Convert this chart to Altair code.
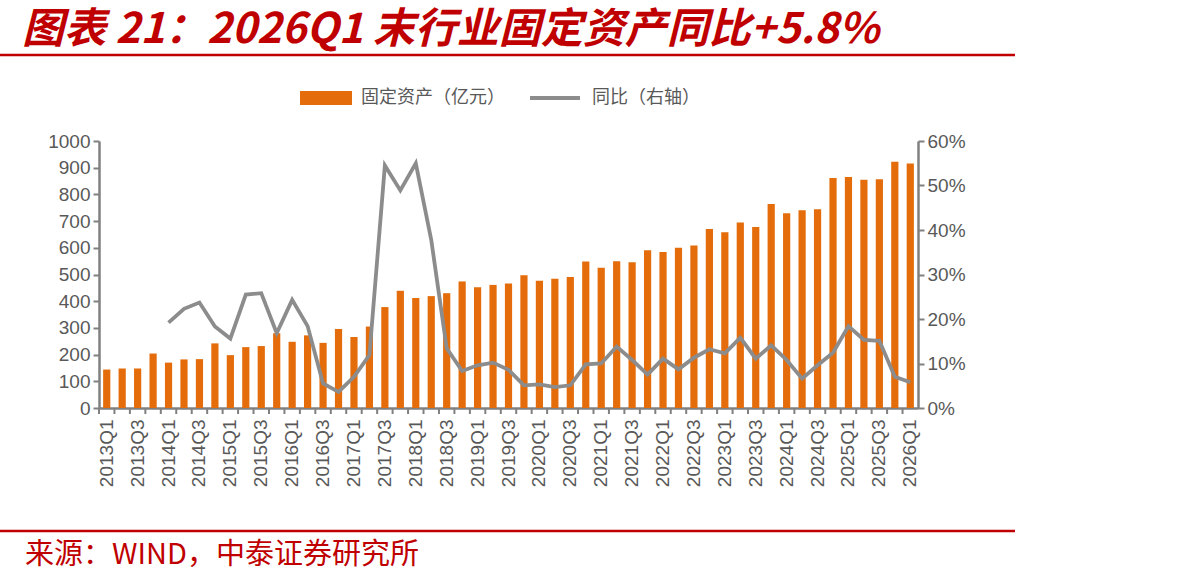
import altair as alt
import pandas as pd

# Quarter labels, 2013Q1 .. 2026Q1
quarters = [f"{y}Q{q}" for y in range(2013, 2027) for q in range(1, 5)][:53]
shown_labels = [q for q in quarters if q.endswith("Q1") or q.endswith("Q3")]

# Fixed assets (100 million yuan), one value per quarter
fixed_assets = [144, 148, 148, 204, 170, 182, 183, 242, 198, 228,
                232, 280, 248, 272, 244, 296, 266, 305, 378, 439,
                412, 419, 430, 474, 452, 461, 466, 497, 477, 484,
                491, 549, 525, 550, 546, 591, 584, 600, 609, 670,
                658, 695, 678, 764, 729, 741, 744, 861, 865, 855,
                857, 922, 916]

# Year-on-year growth (%), available from 2014Q1
yoy_quarters = quarters[4:]
yoy_pct = [19.2, 22.3, 23.7, 18.3, 15.6, 25.5, 25.8, 16.8, 24.3, 18.4,
           5.5, 3.6, 7.0, 11.9, 54.5, 48.9, 55.0, 37.8, 13.4, 8.3,
           9.6, 10.2, 8.6, 5.1, 5.3, 4.7, 5.1, 9.8, 10.0, 13.8,
           10.8, 7.5, 11.1, 8.7, 11.3, 13.2, 12.3, 15.8, 11.1, 14.1,
           10.8, 6.6, 9.6, 12.4, 18.4, 15.3, 15.1, 7.0, 5.8]

left_ticks = list(range(0, 1001, 100))
right_ticks = [0, 10, 20, 30, 40, 50, 60]

bar_name = "固定资产（亿元）"
line_name = "同比（右轴）"
title_text = "图表 21：2026Q1 末行业固定资产同比+5.8%"
source_text = "来源：WIND，中泰证券研究所"

ORANGE = "#E46C0A"
GREY = "#8C8C8C"
RED = "#C00000"
AXIS = "#808080"
LABEL = "#595959"
NUM_FONT = "Liberation Sans"
CJK_FONT = "Noto Sans CJK SC"

W, H = 819, 267
OX, OY = 99, 141
STEP = W / len(quarters)

bars_df = pd.DataFrame({"quarter": quarters, "assets": fixed_assets})
line_df = pd.DataFrame({"quarter": yoy_quarters, "yoy": yoy_pct})

bars = alt.Chart(bars_df).mark_bar(size=7.2, color=ORANGE).encode(
    x=alt.X(
        "quarter:N",
        sort=quarters,
        axis=alt.Axis(
            title=None, values=shown_labels, labelAngle=270,
            labelFont=NUM_FONT, labelFontSize=19, labelColor=LABEL,
            labelPadding=5, tickSize=6, tickOpacity=0,
            domainColor=AXIS, domainWidth=2.5,
        ),
    ),
    y=alt.Y(
        "assets:Q",
        scale=alt.Scale(domain=[0, 1000]),
        axis=alt.Axis(
            title=None, values=left_ticks, format="d", grid=False,
            labelFont=NUM_FONT, labelFontSize=19, labelColor=LABEL,
            labelPadding=3, tickSize=6, tickColor=AXIS, tickWidth=2,
            domainColor=AXIS, domainWidth=2.5,
        ),
    ),
)

# category ticks between neighbouring bars
x_ticks = alt.Chart(bars_df).mark_rule(
    color=AXIS, strokeWidth=2, xOffset=-STEP / 2
).encode(
    x=alt.X("quarter:N", sort=quarters),
    y=alt.value(H),
    y2=alt.value(H + 6),
)

line = alt.Chart(line_df).mark_line(strokeWidth=3.8, color=GREY).encode(
    x=alt.X("quarter:N", sort=quarters),
    y=alt.Y(
        "yoy:Q",
        scale=alt.Scale(domain=[0, 60]),
        axis=alt.Axis(
            title=None, orient="right", values=right_ticks,
            labelExpr="datum.value + '%'",
            grid=False, labelFont=NUM_FONT, labelFontSize=19,
            labelColor=LABEL, labelPadding=3, tickSize=6, tickColor=AXIS,
            tickWidth=2, domainColor=AXIS, domainWidth=2.5,
        ),
    ),
)

one = pd.DataFrame({"t": [0]})

# Legend: swatch + label for each series
leg_bar = alt.Chart(one).mark_rect(color=ORANGE).encode(
    x=alt.value(300 - OX), x2=alt.value(352 - OX),
    y=alt.value(91 - OY), y2=alt.value(105 - OY),
)
leg_bar_text = alt.Chart(one).mark_text(
    text=bar_name, align="left", baseline="middle", font=CJK_FONT,
    fontSize=18, color=LABEL,
).encode(x=alt.value(361 - OX), y=alt.value(98 - OY))
leg_line = alt.Chart(one).mark_rule(color=GREY, strokeWidth=4).encode(
    x=alt.value(530 - OX), x2=alt.value(580 - OX), y=alt.value(98 - OY)
)
leg_line_text = alt.Chart(one).mark_text(
    text=line_name, align="left", baseline="middle", font=CJK_FONT,
    fontSize=18, color=LABEL,
).encode(x=alt.value(592 - OX), y=alt.value(98 - OY))

title = alt.Chart(one).mark_text(
    text=title_text, align="left", baseline="middle", font=CJK_FONT,
    fontSize=42, fontWeight="bold", fontStyle="italic", color=RED,
).encode(x=alt.value(22 - OX), y=alt.value(30 - OY))

top_rule = alt.Chart(one).mark_rule(color=RED, strokeWidth=2.5).encode(
    x=alt.value(-OX), x2=alt.value(1015 - OX), y=alt.value(55 - OY)
)
bottom_rule = alt.Chart(one).mark_rule(color=RED, strokeWidth=2.5).encode(
    x=alt.value(-OX), x2=alt.value(1015 - OX), y=alt.value(531 - OY)
)

source = alt.Chart(one).mark_text(
    text=source_text, align="left", baseline="middle", font=CJK_FONT,
    fontSize=29, color=RED,
).encode(x=alt.value(25 - OX), y=alt.value(555 - OY))

chart = (
    alt.layer(bars, x_ticks, line, leg_bar, leg_bar_text, leg_line,
              leg_line_text, title, top_rule, bottom_rule, source)
    .resolve_scale(y="independent")
    .properties(
        width=W, height=H,
        autosize=alt.AutoSizeParams(type="none"),
        padding={"left": OX, "top": OY,
                 "right": 1192 - OX - W, "bottom": 585 - OY - H},
        background="white",
    )
    .configure(aria=False)
    .configure_view(stroke=None)
)

chart.save("out.html", embed_options={"renderer": "svg", "actions": False})
